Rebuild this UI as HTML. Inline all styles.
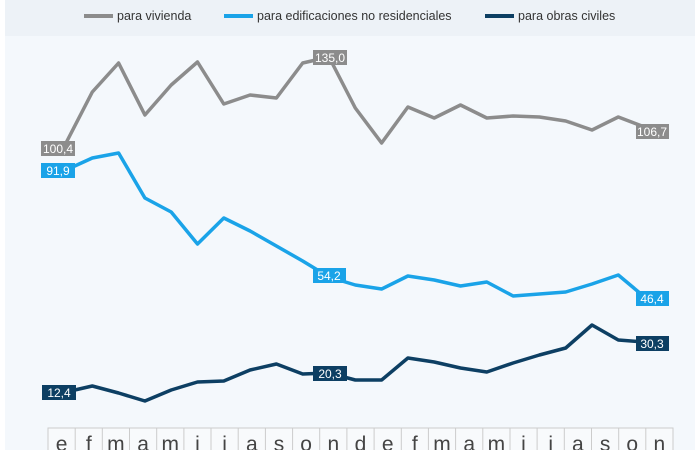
<!DOCTYPE html>
<html><head><meta charset="utf-8"><style>
body{margin:0;width:700px;height:450px;overflow:hidden;background:#fff;font-family:"Liberation Sans",sans-serif}
</style></head><body>
<svg width="700" height="450" xmlns="http://www.w3.org/2000/svg" font-family="Liberation Sans, sans-serif">
<rect x="5" y="0" width="690" height="450" fill="#f4f8fc"/>
<rect x="5" y="0" width="690" height="36" fill="#edf2f7"/>
<g font-size="12.5" fill="#333">
<line x1="84" y1="16" x2="113" y2="16" stroke="#8c8c8c" stroke-width="4"/><text x="117" y="20">para vivienda</text>
<line x1="224" y1="16" x2="253" y2="16" stroke="#1aa3e8" stroke-width="4"/><text x="257" y="20">para edificaciones no residenciales</text>
<line x1="485" y1="16" x2="514" y2="16" stroke="#0d3f63" stroke-width="4"/><text x="518" y="20">para obras civiles</text>
</g>
<g fill="none" stroke-width="3.5" stroke-linejoin="round">
<polyline stroke="#8c8c8c" points="66,143 92.3,92 118.6,63 144.9,115 171.2,85 197.5,62 223.8,104 250.1,95 276.4,98 302.7,63 329,57 355.3,108 381.6,143 407.9,107 434.2,118 460.5,105 486.8,118 513.1,116 539.4,117 565.7,121 592,130 618.3,117 644.6,127"/>
<polyline stroke="#1aa3e8" points="66,170 92.3,158 118.6,153 144.9,198 171.2,212 197.5,244 223.8,218 250.1,231 276.4,246 302.7,261 329,277 355.3,285 381.6,289 407.9,276 434.2,280 460.5,286 486.8,282 513.1,296 539.4,294 565.7,292 592,284 618.3,275 644.6,297"/>
<polyline stroke="#0d3f63" points="66,392 92.3,386 118.6,393 144.9,401 171.2,390 197.5,382 223.8,381 250.1,370 276.4,364 302.7,374 329,373 355.3,380 381.6,380 407.9,358 434.2,362 460.5,368 486.8,372 513.1,363 539.4,355 565.7,348 592,325 618.3,340 644.6,342"/>
</g>
<g font-size="12" fill="#fff" text-anchor="middle">
<rect x="41" y="141" width="34" height="15" fill="#8c8c8c"/><text x="58" y="153">100,4</text>
<rect x="313" y="50" width="34" height="15" fill="#8c8c8c"/><text x="330" y="62">135,0</text>
<rect x="636" y="124" width="33" height="15" fill="#8c8c8c"/><text x="652" y="136">106,7</text>
<rect x="41" y="163" width="34" height="15" fill="#1aa3e8"/><text x="58" y="175">91,9</text>
<rect x="313" y="268" width="33" height="15" fill="#1aa3e8"/><text x="329" y="280">54,2</text>
<rect x="636" y="291" width="33" height="15" fill="#1aa3e8"/><text x="652" y="303">46,4</text>
<rect x="42" y="385" width="34" height="15" fill="#0d3f63"/><text x="59" y="397">12,4</text>
<rect x="313" y="366" width="34" height="15" fill="#0d3f63"/><text x="330" y="378">20,3</text>
<rect x="636" y="336" width="33" height="15" fill="#0d3f63"/><text x="652" y="348">30,3</text>
</g>
<g font-size="21" fill="#444" text-anchor="middle">
<rect x="48" y="428" width="625" height="30" fill="#f8fafc" stroke="#ccc"/>
<g stroke="#ccc" stroke-width="1">
<line x1="75.2" y1="428" x2="75.2" y2="450"/><line x1="102.3" y1="428" x2="102.3" y2="450"/><line x1="129.5" y1="428" x2="129.5" y2="450"/><line x1="156.7" y1="428" x2="156.7" y2="450"/><line x1="183.9" y1="428" x2="183.9" y2="450"/><line x1="211" y1="428" x2="211" y2="450"/><line x1="238.2" y1="428" x2="238.2" y2="450"/><line x1="265.4" y1="428" x2="265.4" y2="450"/><line x1="292.6" y1="428" x2="292.6" y2="450"/><line x1="319.7" y1="428" x2="319.7" y2="450"/><line x1="346.9" y1="428" x2="346.9" y2="450"/><line x1="374.1" y1="428" x2="374.1" y2="450"/><line x1="401.3" y1="428" x2="401.3" y2="450"/><line x1="428.4" y1="428" x2="428.4" y2="450"/><line x1="455.6" y1="428" x2="455.6" y2="450"/><line x1="482.8" y1="428" x2="482.8" y2="450"/><line x1="510" y1="428" x2="510" y2="450"/><line x1="537.1" y1="428" x2="537.1" y2="450"/><line x1="564.3" y1="428" x2="564.3" y2="450"/><line x1="591.5" y1="428" x2="591.5" y2="450"/><line x1="618.7" y1="428" x2="618.7" y2="450"/><line x1="645.8" y1="428" x2="645.8" y2="450"/>
</g>
<text x="61.6" y="451">e</text><text x="88.8" y="451">f</text><text x="115.9" y="451">m</text><text x="143.1" y="451">a</text><text x="170.3" y="451">m</text><text x="197.4" y="451">j</text><text x="224.6" y="451">j</text><text x="251.8" y="451">a</text><text x="279" y="451">s</text><text x="306.1" y="451">o</text><text x="333.3" y="451">n</text><text x="360.5" y="451">d</text><text x="387.7" y="451">e</text><text x="414.8" y="451">f</text><text x="442" y="451">m</text><text x="469.2" y="451">a</text><text x="496.4" y="451">m</text><text x="523.5" y="451">j</text><text x="550.7" y="451">j</text><text x="577.9" y="451">a</text><text x="605.1" y="451">s</text><text x="632.2" y="451">o</text><text x="659.4" y="451">n</text>
</g>
</svg>
</body></html>
